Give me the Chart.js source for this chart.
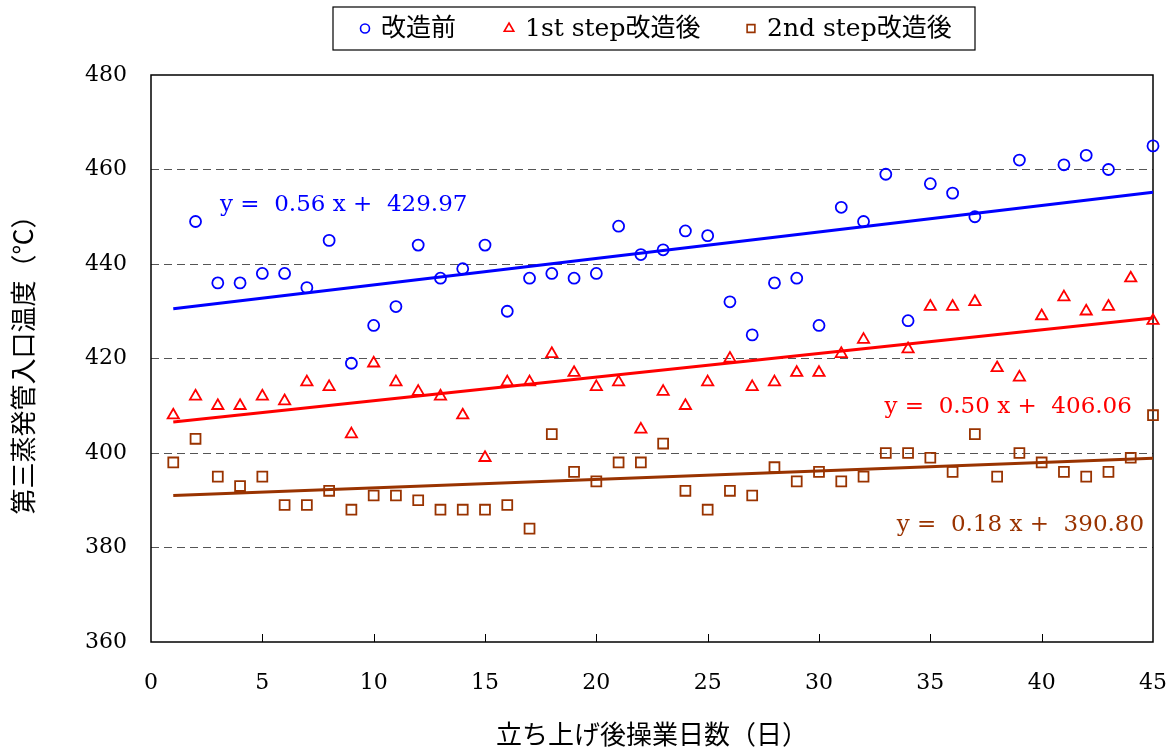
<!DOCTYPE html>
<html>
<head>
<meta charset="utf-8">
<script src="https://cdn.jsdelivr.net/npm/chart.js@4.4.1/dist/chart.umd.min.js"></script>
<style>
  html, body { margin: 0; padding: 0; background: #fff; }
</style>
</head>
<body>
<canvas id="tempChart" width="1173" height="751"></canvas>
<script>
// days after start-up
const days = [1, 2, 3, 4, 5, 6, 7, 8, 9, 10, 11, 12, 13, 14, 15, 16, 17, 18, 19, 20, 21, 22, 23,
              24, 25, 26, 27, 28, 29, 30, 31, 32, 33, 34, 35, 36, 37, 38, 39, 40, 41, 42, 43, 44, 45];

// 改造前
const beforeMod = [null, 449, 436, 436, 438, 438, 435, 445, 419, 427, 431, 444, 437, 439, 444, 430, 437, 438, 437, 438, 448, 442, 443,
                   447, 446, 432, 425, 436, 437, 427, 452, 449, 459, 428, 457, 455, 450, null, 462, null, 461, 463, 460, null, 465];
// 1st step改造後
const step1 = [408, 412, 410, 410, 412, 411, 415, 414, 404, 419, 415, 413, 412, 408, 399, 415, 415, 421, 417, 414, 415, 405, 413,
               410, 415, 420, 414, 415, 417, 417, 421, 424, null, 422, 431, 431, 432, 418, 416, 429, 433, 430, 431, 437, 428];
// 2nd step改造後
const step2 = [398, 403, 395, 393, 395, 389, 389, 392, 388, 391, 391, 390, 388, 388, 388, 389, 384, 404, 396, 394, 398, 398, 402,
               392, 388, 392, 391, 397, 394, 396, 394, 395, 400, 400, 399, 396, 404, 395, 400, 398, 396, 395, 396, 399, 408];

const seriesNames = ['改造前', '1st step改造後', '2nd step改造後'];
const seriesColors = ['#0000ff', '#ff0000', '#993300'];

// linear fits shown on the chart
const slopes = [0.56, 0.50, 0.18];
const intercepts = [429.97, 406.06, 390.80];
const fitRange = [1, 45];
const fitLabels = ['y =  0.56 x +  429.97', 'y =  0.50 x +  406.06', 'y =  0.18 x +  390.80'];

const xTicks = [0, 5, 10, 15, 20, 25, 30, 35, 40, 45];
const yTicks = [360, 380, 400, 420, 440, 460, 480];

const toPoints = vals => days.map((d, i) => ({x: d, y: vals[i]})).filter(p => p.y !== null);
const fitLine = i => fitRange.map(x => ({x: x, y: slopes[i] * x + intercepts[i]}));

const NUM_FONT = '"DejaVu Serif", "Noto Sans CJK JP", serif';
const JP_FONT = '"Noto Sans CJK JP", "DejaVu Serif", sans-serif';

const markers = [
  {pointStyle: 'circle', radius: 5.5},
  {pointStyle: 'triangle', radius: 6.5},
  {pointStyle: 'rect', radius: 7}
];

const datasets = [beforeMod, step1, step2].map((vals, i) => ({
  label: seriesNames[i],
  data: toPoints(vals),
  pointStyle: markers[i].pointStyle,
  pointRadius: markers[i].radius,
  pointBorderWidth: 1.8,
  pointBorderColor: seriesColors[i],
  pointBackgroundColor: 'rgba(0,0,0,0)',
  showLine: false,
  clip: false,
  order: 1
}));

[0, 1, 2].forEach(i => {
  datasets.push({
    label: seriesNames[i] + ' fit',
    data: fitLine(i),
    showLine: true,
    borderColor: seriesColors[i],
    borderWidth: 3,
    pointRadius: 0,
    clip: false,
    order: 2
  });
});

// frame, inward ticks, equations and boxed legend
const decorPlugin = {
  id: 'decor',
  beforeDatasetsDraw(chart) {
    const {ctx, chartArea: a, scales: {x}} = chart;
    ctx.save();
    ctx.strokeStyle = '#000';
    ctx.lineWidth = 1.5;
    ctx.strokeRect(a.left, a.top, a.right - a.left, a.bottom - a.top);
    ctx.lineWidth = 1;
    xTicks.forEach(v => {
      if (v <= x.min || v >= x.max) return;
      const px = Math.round(x.getPixelForValue(v)) + 0.5;
      ctx.beginPath();
      ctx.moveTo(px, a.bottom);
      ctx.lineTo(px, a.bottom - 8);
      ctx.stroke();
    });
    ctx.restore();
  },
  afterDraw(chart) {
    const {ctx, scales: {x, y}} = chart;
    ctx.save();

    // regression equations
    const eqPos = [
      {x: 3.1, y: 452.5, align: 'left'},
      {x: 44.05, y: 409.7, align: 'right'},
      {x: 44.6, y: 384.8, align: 'right'}
    ];
    ctx.font = '23px ' + NUM_FONT;
    ctx.textBaseline = 'middle';
    eqPos.forEach((p, i) => {
      ctx.fillStyle = seriesColors[i];
      ctx.textAlign = p.align;
      ctx.fillText(fitLabels[i], x.getPixelForValue(p.x), y.getPixelForValue(p.y));
    });

    // legend
    const box = {left: 333, top: 7, right: 975, bottom: 50};
    ctx.strokeStyle = '#000';
    ctx.lineWidth = 1.2;
    ctx.strokeRect(box.left, box.top, box.right - box.left, box.bottom - box.top);
    const cy = (box.top + box.bottom) / 2;
    const itemX = [365, 509, 751];
    const legendRadius = [4.5, 5.5, 5.5];
    ctx.font = '25px ' + NUM_FONT;
    ctx.textAlign = 'left';
    ctx.textBaseline = 'middle';
    seriesNames.forEach((name, i) => {
      ctx.strokeStyle = seriesColors[i];
      ctx.fillStyle = 'rgba(0,0,0,0)';
      ctx.lineWidth = 1.6;
      Chart.helpers.drawPoint(ctx, {
        pointStyle: markers[i].pointStyle,
        radius: legendRadius[i],
        rotation: 0,
        borderWidth: 1.6
      }, itemX[i], cy);
      ctx.fillStyle = '#000';
      ctx.fillText(name, itemX[i] + 16, cy + 1);
    });
    ctx.restore();
  }
};

const ctx = document.getElementById('tempChart').getContext('2d');
const tempChart = new Chart(ctx, {
  type: 'scatter',
  data: {datasets: datasets},
  options: {
    responsive: false,
    animation: false,
    layout: {padding: {top: 75, right: 20, left: 0, bottom: 0}},
    plugins: {
      legend: {display: false},
      tooltip: {enabled: false}
    },
    scales: {
      x: {
        type: 'linear',
        min: xTicks[0],
        max: xTicks[xTicks.length - 1],
        afterFit: s => { s.height = 109; s.paddingLeft = 0; s.paddingRight = 0; },
        afterBuildTicks: s => { s.ticks = xTicks.map(v => ({value: v})); },
        ticks: {
          color: '#000',
          padding: 28,
          font: {family: NUM_FONT, size: 22}
        },
        grid: {display: false, drawTicks: false},
        border: {display: false},
        title: {
          display: true,
          text: '立ち上げ後操業日数（日）',
          color: '#000',
          font: {family: JP_FONT, size: 26},
          padding: {top: 0, bottom: 1}
        }
      },
      y: {
        min: yTicks[0],
        max: yTicks[yTicks.length - 1],
        afterFit: s => { s.width = 151; s.paddingTop = 0; s.paddingBottom = 0; },
        afterBuildTicks: s => { s.ticks = yTicks.map(v => ({value: v})); },
        ticks: {
          color: '#000',
          padding: 24,
          font: {family: NUM_FONT, size: 22}
        },
        grid: {
          drawTicks: false,
          color: c => (c.tick.value === yTicks[0] || c.tick.value === yTicks[yTicks.length - 1]) ? 'rgba(0,0,0,0)' : '#555',
          lineWidth: 1
        },
        border: {display: false, dash: [8, 5]},
        title: {
          display: true,
          text: '第三蒸発管入口温度（℃）',
          color: '#000',
          font: {family: JP_FONT, size: 26},
          padding: {top: 8, bottom: 0}
        }
      }
    }
  },
  plugins: [decorPlugin]
});
</script>
</body>
</html>
